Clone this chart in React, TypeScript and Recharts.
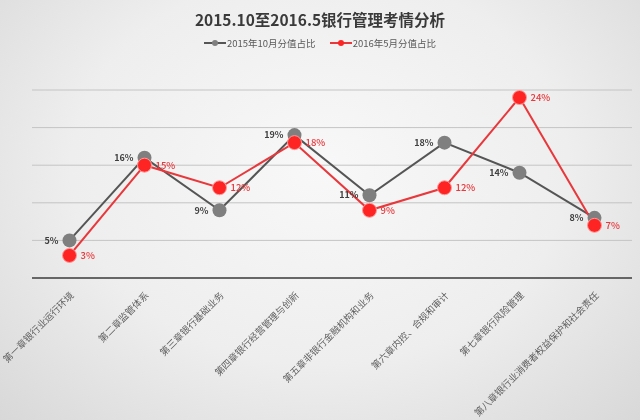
import React from "react";
import {
  LineChart,
  Line,
  XAxis,
  YAxis,
  CartesianGrid,
  LabelList,
} from "recharts";

// 章节 + 两期分值占比（%）
const CHAPTERS = [
  "第一章银行业运行环境",
  "第二章监管体系",
  "第三章银行基础业务",
  "第四章银行经营管理与创新",
  "第五章非银行金融机构和业务",
  "第六章内控、合规和审计",
  "第七章银行风险管理",
  "第八章银行业消费者权益保护和社会责任",
];
const SHARE_2015_10 = [5, 16, 9, 19, 11, 18, 14, 8];
const SHARE_2016_05 = [3, 15, 12, 18, 9, 12, 24, 7];
const Y_TICKS = [0, 5, 10, 15, 20, 25];

const TITLE = "2015.10至2016.5银行管理考情分析";
const LEGEND = [
  { label: "2015年10月分值占比", color: "#555555", dot: "#7f7f7f" },
  { label: "2016年5月分值占比", color: "#e8383c", dot: "#ff2424" },
];

const FONT = "'Noto Sans CJK SC', 'Open Sans', sans-serif";

const data = CHAPTERS.map((name, i) => ({
  name,
  a: SHARE_2015_10[i],
  b: SHARE_2016_05[i],
}));

const pct = (v: number) => `${v}%`;

function ChapterTick(props: any) {
  const { x, y, payload } = props;
  return (
    <text
      transform={`translate(${x + 5},${y + 10}) rotate(-45)`}
      textAnchor="end"
      fontSize={9.5}
      fill="#5f5f5f"
      fontFamily={FONT}
    >
      {payload.value}
    </text>
  );
}

export default function App() {
  return (
    <div
      style={{
        position: "fixed",
        left: 0,
        top: 0,
        width: 640,
        height: 420,
        fontFamily: FONT,
        background:
          "radial-gradient(ellipse at 50% 40%, #f8f8f8 0%, #eeeeee 55%, #d8d8d8 100%)",
      }}
    >
      <div
        style={{
          position: "absolute",
          top: 8,
          left: 0,
          width: 640,
          textAlign: "center",
          fontSize: 15.5,
          fontWeight: 700,
          color: "#3a3a3a",
        }}
      >
        {TITLE}
      </div>
      <div
        style={{
          position: "absolute",
          top: 36,
          left: 0,
          width: 640,
          display: "flex",
          justifyContent: "center",
          gap: 14,
          fontSize: 9.5,
          color: "#595959",
        }}
      >
        {LEGEND.map((l) => (
          <span key={l.label} style={{ display: "flex", alignItems: "center" }}>
            <svg width={22} height={10} style={{ marginRight: 1 }}>
              <line x1={0} y1={5} x2={22} y2={5} stroke={l.color} strokeWidth={2} />
              <circle cx={11} cy={5} r={3} fill={l.dot} />
            </svg>
            {l.label}
          </span>
        ))}
      </div>
      <LineChart
        width={640}
        height={420}
        data={data}
        margin={{ top: 90, right: 8, left: 32, bottom: 0 }}
        style={{ position: "absolute", left: 0, top: 0 }}
      >
        <CartesianGrid vertical={false} stroke="#c4c4c4" />
        <XAxis
          dataKey="name"
          interval={0}
          height={142}
          padding={{ left: 37.5, right: 37.5 }}
          tickLine={false}
          axisLine={{ stroke: "#404040", strokeWidth: 1.5 }}
          tick={<ChapterTick />}
        />
        <YAxis hide domain={[0, 25]} ticks={Y_TICKS} />
        <Line
          dataKey="a"
          stroke="#555555"
          strokeWidth={2}
          dot={{ r: 7, fill: "#7f7f7f", stroke: "none" }}
          activeDot={false}
          isAnimationActive={false}
        >
          <LabelList
            dataKey="a"
            position="left"
            offset={11}
            formatter={pct}
            fontSize={9}
            fill="#404040"
            fontWeight={600}
          />
        </Line>
        <Line
          dataKey="b"
          stroke="#e8383c"
          strokeWidth={2}
          dot={{ r: 7, fill: "#ff2424", stroke: "#ff9a9a", strokeWidth: 1 }}
          activeDot={false}
          isAnimationActive={false}
        >
          <LabelList
            dataKey="b"
            position="right"
            offset={11}
            formatter={pct}
            fontSize={9.5}
            fill="#e8383c"
            fontWeight={500}
          />
        </Line>
      </LineChart>
    </div>
  );
}
